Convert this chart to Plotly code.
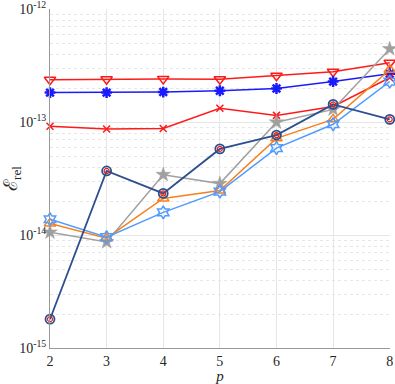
import plotly.graph_objects as go

p = [2, 3, 4, 5, 6, 7, 8]

tri_down_red = [2.38e-13, 2.40e-13, 2.42e-13, 2.40e-13, 2.58e-13, 2.80e-13, 3.36e-13]
aster_blue = [1.83e-13, 1.83e-13, 1.85e-13, 1.90e-13, 1.99e-13, 2.29e-13, 2.69e-13]
x_red = [9.2e-14, 8.7e-14, 8.8e-14, 1.33e-13, 1.15e-13, 1.38e-13, 2.48e-13]
star_grey = [1.06e-14, 8.7e-15, 3.43e-14, 2.86e-14, 1.0e-13, 1.30e-13, 4.46e-13]
tri_up_orange = [1.27e-14, 9.4e-15, 2.11e-14, 2.48e-14, 7.2e-14, 1.06e-13, 2.92e-13]
hex_lightblue = [1.38e-14, 9.6e-15, 1.59e-14, 2.43e-14, 5.9e-14, 9.6e-14, 2.29e-13]
circ_navy = [1.8e-15, 3.7e-14, 2.34e-14, 5.8e-14, 7.7e-14, 1.44e-13, 1.06e-13]

y_ticks = [1e-15, 1e-14, 1e-13, 1e-12]
y_ticktext = ["10<sup>-15</sup>", "10<sup>-14</sup>", "10<sup>-13</sup>", "10<sup>-12</sup>"]

fig = go.Figure()

def add(y, color, symbol, size, lw=1.5, mlw=1.5):
    fig.add_trace(go.Scatter(
        x=p, y=y, mode="lines+markers", cliponaxis=False,
        line=dict(color=color, width=lw),
        marker=dict(symbol=symbol, size=size, color=color, line=dict(color=color, width=mlw)),
    ))

add(tri_down_red, "#ff1a1a", "triangle-down-open", 10)
add(aster_blue, "#1a1aff", "asterisk-open", 9, mlw=2.5)
add(x_red, "#ff1a1a", "x-thin-open", 7, mlw=1.5)
add(star_grey, "#a0a0a0", "star", 11, mlw=0.5)
add(tri_up_orange, "#f7801e", "triangle-up-open", 10)
add(hex_lightblue, "#4f9bff", "hexagram-open", 10)
add(circ_navy, "#2e4f8f", "circle-open", 9, lw=1.8, mlw=1.8)
# red dotted ring inside the navy circles
fig.add_trace(go.Scatter(
    x=p, y=circ_navy, mode="markers", cliponaxis=False,
    marker=dict(symbol="circle-open", size=5, color="#e02020", line=dict(color="#e02020", width=1.2)),
))

font = "Liberation Serif, Times New Roman, serif"

fig.update_layout(
    width=395, height=384,
    margin=dict(l=50, r=5, t=9, b=36, autoexpand=False),
    paper_bgcolor="white", plot_bgcolor="white",
    showlegend=False,
    font=dict(family=font, size=14, color="#262626"),
    xaxis=dict(
        range=[2, 8.005], tickvals=p, ticks="", ticklabeloverflow="allow",
        showline=True, linecolor="#999999", linewidth=1, mirror=False, automargin=False,
        showgrid=True, gridcolor="#e6e6e6", gridwidth=1, zeroline=False,
        title=dict(text="<i>p</i>", standoff=0, font=dict(size=15)),
    ),
    yaxis=dict(
        type="log", range=[-15, -11.997], tickvals=y_ticks, ticktext=y_ticktext,
        ticks="", automargin=False, ticklabeloverflow="allow",
        showline=True, linecolor="#999999", linewidth=1,
        showgrid=True, gridcolor="#e6e6e6", gridwidth=1, zeroline=False,
        minor=dict(tickvals=[k * 10.0 ** e for e in (-15, -14, -13) for k in range(2, 10)],
                   showgrid=True, gridcolor="#e6e6e6", griddash="dot", ticks=""),
        title=dict(text="ℰ<sub>rel</sub>", standoff=0, font=dict(size=19)),
    ),
)

fig.write_html("out.html", config={"displayModeBar": False},
               post_script="document.body.style.margin='0px';")
